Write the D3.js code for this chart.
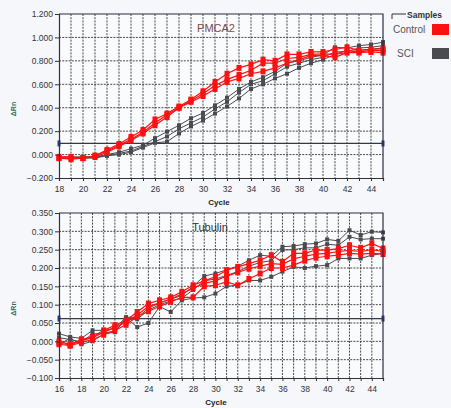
<!DOCTYPE html>
<html>
<head>
<meta charset="utf-8">
<script src="https://cdn.jsdelivr.net/npm/d3@7"></script>
<style>
  body { margin: 0; background: #f6f7fb; }
  svg { display: block; }
  text { font-family: "Liberation Sans", Arial, sans-serif; }
</style>
</head>
<body>
<svg id="chart" width="451" height="408"></svg>
<script>
// ---- PMCA2 panel (cycles 18..45) ----
const pmcaCycles = d3.range(18, 46);
const pmcaControl = [
  [-0.03, -0.03, -0.03, -0.01, 0.04, 0.09, 0.15, 0.21, 0.30, 0.35, 0.41, 0.47, 0.54, 0.62, 0.69, 0.74, 0.77, 0.81, 0.80, 0.855, 0.855, 0.876, 0.876, 0.897, 0.916, 0.89, 0.897, 0.905],
  [-0.02, -0.02, -0.03, -0.01, 0.03, 0.08, 0.13, 0.19, 0.27, 0.34, 0.40, 0.46, 0.52, 0.59, 0.64, 0.68, 0.72, 0.78, 0.78, 0.82, 0.83, 0.855, 0.86, 0.855, 0.89, 0.876, 0.89, 0.89],
  [-0.03, -0.04, -0.03, -0.02, 0.02, 0.07, 0.12, 0.18, 0.25, 0.32, 0.40, 0.45, 0.50, 0.56, 0.62, 0.65, 0.69, 0.71, 0.74, 0.78, 0.81, 0.845, 0.845, 0.83, 0.87, 0.87, 0.876, 0.87]
];
const pmcaSCI = [
  [-0.02, -0.02, -0.02, -0.02, 0.00, 0.02, 0.05, 0.08, 0.14, 0.196, 0.25, 0.31, 0.355, 0.42, 0.485, 0.56, 0.62, 0.66, 0.71, 0.78, 0.80, 0.83, 0.85, 0.916, 0.91, 0.93, 0.94, 0.96],
  [-0.03, -0.03, -0.02, -0.02, -0.01, 0.01, 0.03, 0.07, 0.11, 0.154, 0.22, 0.27, 0.32, 0.39, 0.45, 0.53, 0.60, 0.63, 0.69, 0.75, 0.78, 0.81, 0.83, 0.876, 0.88, 0.91, 0.916, 0.93],
  [-0.03, -0.03, -0.03, -0.03, -0.01, 0.00, 0.02, 0.06, 0.10, 0.11, 0.18, 0.24, 0.29, 0.35, 0.41, 0.48, 0.56, 0.60, 0.65, 0.69, 0.74, 0.78, 0.81, 0.855, 0.87, 0.89, 0.90, 0.91]
];
const pmcaYTicks = [-0.2, 0, 0.2, 0.4, 0.6, 0.8, 1.0, 1.2];
const pmcaThreshold = 0.095;

// ---- Tubulin panel (cycles 16..45) ----
const tubCycles = d3.range(16, 46);
const tubControl = [
  [0.000, -0.008, 0.005, 0.012, 0.030, 0.044, 0.057, 0.080, 0.103, 0.112, 0.120, 0.135, 0.153, 0.165, 0.176, 0.194, 0.203, 0.212, 0.221, 0.235, 0.217, 0.240, 0.240, 0.249, 0.249, 0.253, 0.262, 0.255, 0.267, 0.253],
  [-0.005, -0.010, 0.002, 0.010, 0.025, 0.038, 0.052, 0.072, 0.095, 0.105, 0.115, 0.130, 0.145, 0.158, 0.165, 0.178, 0.188, 0.198, 0.205, 0.212, 0.210, 0.225, 0.232, 0.238, 0.240, 0.245, 0.248, 0.245, 0.250, 0.245],
  [-0.008, -0.012, -0.003, 0.005, 0.018, 0.030, 0.045, 0.068, 0.082, 0.095, 0.108, 0.120, 0.120, 0.150, 0.153, 0.162, 0.153, 0.170, 0.185, 0.200, 0.200, 0.208, 0.220, 0.228, 0.232, 0.235, 0.240, 0.238, 0.240, 0.238]
];
const tubSCI = [
  [0.021, 0.012, 0.008, 0.030, 0.030, 0.035, 0.066, 0.065, 0.090, 0.105, 0.115, 0.125, 0.150, 0.178, 0.185, 0.195, 0.205, 0.221, 0.235, 0.232, 0.258, 0.260, 0.265, 0.267, 0.278, 0.274, 0.303, 0.290, 0.299, 0.297],
  [0.010, 0.005, -0.002, 0.020, 0.022, 0.028, 0.060, 0.060, 0.085, 0.100, 0.110, 0.118, 0.140, 0.165, 0.170, 0.180, 0.190, 0.205, 0.215, 0.220, 0.249, 0.250, 0.255, 0.255, 0.265, 0.262, 0.285, 0.278, 0.280, 0.280],
  [-0.008, 0.008, -0.008, 0.000, 0.020, 0.025, 0.064, 0.039, 0.050, 0.095, 0.080, 0.112, 0.118, 0.120, 0.130, 0.150, 0.153, 0.166, 0.166, 0.176, 0.190, 0.203, 0.200, 0.205, 0.208, 0.226, 0.226, 0.226, 0.235, 0.240]
];
const tubYTicks = [-0.1, -0.05, 0, 0.05, 0.1, 0.15, 0.2, 0.25, 0.3, 0.35];
const tubThreshold = 0.062;

const legendItems = ['Control', 'SCI'];
const colors = { Control: '#ff1010', SCI: '#4a4a50' };

const svg = d3.select('#chart');

function drawPanel(cfg) {
  const x = d3.scaleLinear().domain(cfg.xDomain).range([59, 383]);
  const y = d3.scaleLinear().domain(cfg.yDomain).range([cfg.bottom, cfg.top]);
  const g = svg.append('g');

  // plot background
  g.append('rect')
    .attr('x', x.range()[0]).attr('y', cfg.top)
    .attr('width', x.range()[1] - x.range()[0])
    .attr('height', cfg.bottom - cfg.top)
    .attr('fill', '#fafbfd');

  // dashed grid
  const xs = d3.range(cfg.xDomain[0] + 1, cfg.xDomain[1]);
  g.selectAll('.vgrid').data(xs).enter().append('line')
    .attr('x1', d => x(d)).attr('x2', d => x(d))
    .attr('y1', cfg.top).attr('y2', cfg.bottom)
    .attr('stroke', '#333').attr('stroke-width', 0.9)
    .attr('stroke-dasharray', '2,1.2');
  g.selectAll('.hgrid').data(cfg.yTicks.slice(1, -1)).enter().append('line')
    .attr('x1', 59).attr('x2', 383)
    .attr('y1', d => y(d)).attr('y2', d => y(d))
    .attr('stroke', '#333').attr('stroke-width', 0.9)
    .attr('stroke-dasharray', '2,1.2');

  // threshold
  g.append('line')
    .attr('x1', 59).attr('x2', 383)
    .attr('y1', y(cfg.threshold)).attr('y2', y(cfg.threshold))
    .attr('stroke', '#333a44').attr('stroke-width', 1.2);
  g.selectAll('.thr').data([cfg.xDomain[0], cfg.xDomain[1]]).enter().append('rect')
    .attr('x', d => x(d) - 1.5).attr('y', y(cfg.threshold) - 3)
    .attr('width', 3).attr('height', 6).attr('fill', '#2a3f8a');

  // curves
  const line = d3.line().x((d, i) => x(cfg.cycles[i])).y(d => y(d));
  const groups = [
    { key: 'SCI', series: cfg.sci, size: 4, width: 1 },
    { key: 'Control', series: cfg.control, size: 5, width: 1.2 }
  ];
  groups.forEach(grp => {
    grp.series.forEach(s => {
      g.append('path').datum(s)
        .attr('d', line).attr('fill', 'none')
        .attr('stroke', colors[grp.key]).attr('stroke-width', grp.width);
      g.selectAll(null).data(s).enter().append('rect')
        .attr('x', (d, i) => x(cfg.cycles[i]) - grp.size / 2)
        .attr('y', d => y(d) - grp.size / 2 - (grp.key === 'Control' ? 0.5 : 0))
        .attr('width', grp.size)
        .attr('height', grp.size + (grp.key === 'Control' ? 1 : 0))
        .attr('fill', colors[grp.key]);
    });
  });

  // frame top/right
  g.append('path')
    .attr('d', `M59,${cfg.top}H383V${cfg.bottom}`)
    .attr('fill', 'none').attr('stroke', '#2b2d40').attr('stroke-width', 1.2);

  // axes
  const xAxis = g.append('g')
    .attr('transform', `translate(0,${cfg.bottom})`)
    .call(d3.axisBottom(x)
      .tickValues(d3.range(cfg.xDomain[0], cfg.xDomain[1] + 1))
      .tickSize(3)
      .tickFormat(d => d % 2 === 0 ? d : ''));
  xAxis.select('.domain').attr('stroke', '#333').attr('stroke-width', 1.2);
  xAxis.selectAll('.tick line').attr('stroke', '#333');
  xAxis.selectAll('text').attr('fill', '#333').attr('font-size', 8.5).attr('dy', '0.95em');

  const yAxis = g.append('g')
    .attr('transform', 'translate(59,0)')
    .call(d3.axisLeft(y).tickValues(cfg.yTicks).tickSize(4).tickFormat(d3.format('.3f')));
  yAxis.select('.domain').attr('stroke', '#333').attr('stroke-width', 1.2);
  yAxis.selectAll('.tick line').attr('stroke', '#333');
  yAxis.selectAll('text').attr('fill', '#333').attr('font-size', 8.5).attr('x', -6);

  // axis titles
  g.append('text')
    .attr('x', cfg.cycleX).attr('y', cfg.bottom + 27)
    .attr('text-anchor', 'middle').attr('font-size', 8).attr('font-weight', 'bold')
    .attr('fill', '#222').text('Cycle');
  g.append('text')
    .attr('transform', `translate(16,${(cfg.top + cfg.bottom) / 2 + 13}) rotate(-90)`)
    .attr('text-anchor', 'middle').attr('font-size', 7).attr('font-weight', 'bold')
    .attr('fill', '#2f6a5c').text('ΔRn');

  // panel title
  g.append('text')
    .attr('x', cfg.titleX).attr('y', cfg.top + 18)
    .attr('text-anchor', 'middle').attr('font-size', 11)
    .attr('fill', cfg.titleColor).text(cfg.title);
}

drawPanel({
  title: 'PMCA2', titleColor: '#7a4848', titleX: 216, cycleX: 219,
  xDomain: [18, 45], yDomain: [-0.2, 1.2], top: 14, bottom: 178,
  cycles: pmcaCycles, control: pmcaControl, sci: pmcaSCI,
  yTicks: pmcaYTicks, threshold: pmcaThreshold
});

drawPanel({
  title: 'Tubulin', titleColor: '#333', titleX: 210, cycleX: 216,
  xDomain: [16, 45], yDomain: [-0.1, 0.35], top: 213, bottom: 378,
  cycles: tubCycles, control: tubControl, sci: tubSCI,
  yTicks: tubYTicks, threshold: tubThreshold
});

// legend
const lg = svg.append('g');
lg.append('path').attr('d', 'M392,19V14H406').attr('fill', 'none')
  .attr('stroke', '#333').attr('stroke-width', 1);
lg.append('text').attr('x', 407).attr('y', 18)
  .attr('font-size', 8.5).attr('font-weight', 'bold').attr('fill', '#333')
  .text('Samples');
legendItems.forEach((k, i) => {
  lg.append('text').attr('x', k === 'SCI' ? 397 : 393).attr('y', 33 + i * 24)
    .attr('font-size', 10).attr('fill', '#555').text(k);
  lg.append('rect').attr('x', 432).attr('y', 24 + i * 24)
    .attr('width', 17).attr('height', 11).attr('fill', colors[k]);
});
</script>
</body>
</html>
